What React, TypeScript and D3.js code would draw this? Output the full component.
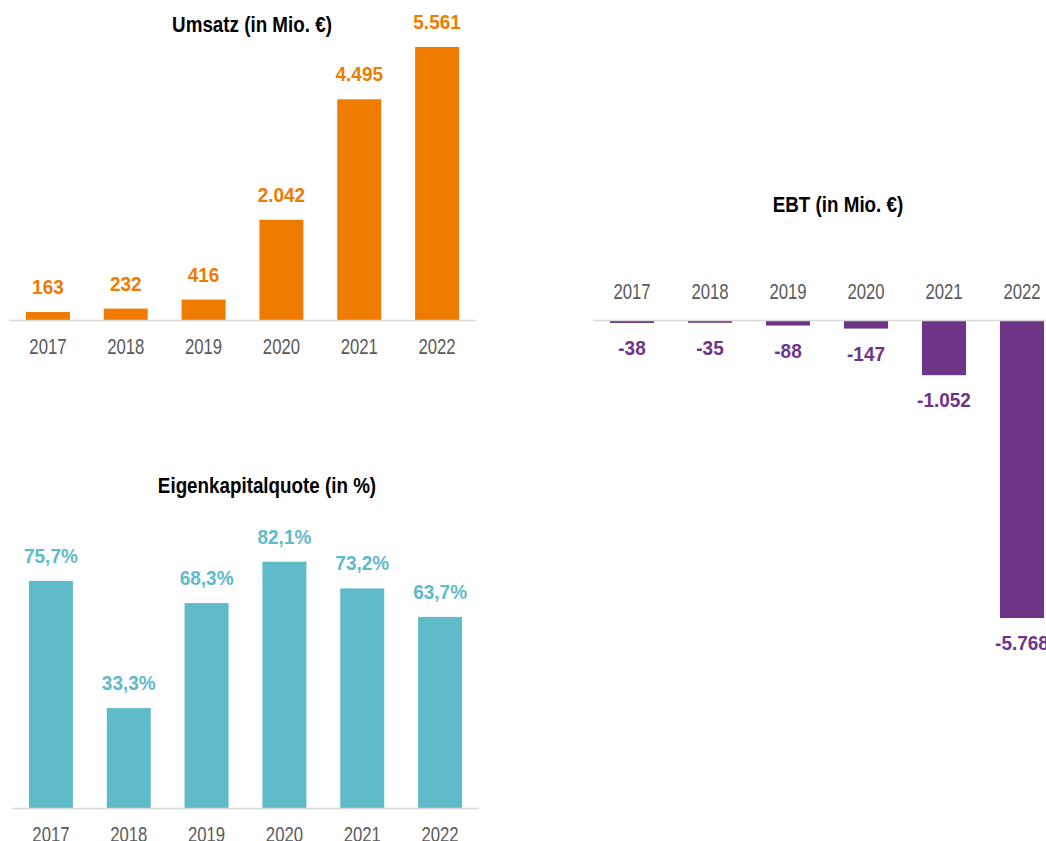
import React from 'react'
import { scaleBand, scaleLinear, formatLocale } from 'd3'

const years = ['2017', '2018', '2019', '2020', '2021', '2022']
const umsatz = [163, 232, 416, 2042, 4495, 5561]
const ebt = [-38, -35, -88, -147, -1052, -5768]
const ekQuote = [75.7, 33.3, 68.3, 82.1, 73.2, 63.7]

const de = formatLocale({ decimal: ',', thousands: '.', grouping: [3], currency: ['', ' €'], minus: '-' })
const fmtInt = de.format(',d')
const fmtPct = de.format(',.1f')

const font = '"Liberation Sans", Arial, sans-serif'

const axisColor = '#d9d9d9'
const yearColor = '#595959'

// text squeezed horizontally, to get the narrow look of the original font
function Txt({ x, y, sx = 1, children, ...rest }) {
  return (
    <text transform={`translate(${x},${y}) scale(${sx},1)`} textAnchor="middle" fontFamily={font} {...rest}>
      {children}
    </text>
  )
}

function Title({ x, y, text }) {
  return <Txt x={x} y={y} sx={0.855} fontWeight="bold" fontSize={22} fill="#000">{text}</Txt>
}

function Year({ x, y, text }) {
  return <Txt x={x} y={y} sx={0.76} fontSize={22} fill={yearColor}>{text}</Txt>
}

function Value({ x, y, text, color }) {
  return <Txt x={x} y={y} sx={0.95} fontWeight="bold" fontSize={20} fill={color}>{text}</Txt>
}

function App() {
  // Umsatz
  const x1 = scaleBand().domain(years).range([9, 476]).paddingInner(0.435).paddingOuter(0.2175)
  const y1 = scaleLinear().domain([0, 6000]).range([320, 320 - 6000 * 0.0491])

  // EBT
  const x2 = scaleBand().domain(years).range([593, 1061]).paddingInner(0.435).paddingOuter(0.2175)
  const y2 = scaleLinear().domain([-6000, 0]).range([321 + 6000 * 0.0515, 321])

  // Eigenkapitalquote
  const x3 = scaleBand().domain(years).range([12, 479]).paddingInner(0.435).paddingOuter(0.2175)
  const y3 = scaleLinear().domain([0, 100]).range([808, 508])

  const mid = (sc, d) => sc(d) + sc.bandwidth() / 2

  return (
    <svg width={1046} height={841} style={{ position: 'absolute', left: 0, top: 0 }}>
      <rect width={1046} height={841} fill="#fff" />

      {/* Umsatz */}
      <Title x={252} y={32} text="Umsatz (in Mio. €)" />
      {umsatz.map((v, i) => (
        <g key={'u' + i}>
          <rect x={x1(years[i])} y={y1(v)} width={x1.bandwidth()} height={y1(0) - y1(v)} fill="#ef7c00" />
          <Value x={mid(x1, years[i])} y={y1(v) - 18} text={fmtInt(v)} color="#ef7c00" />
          <Year x={mid(x1, years[i])} y={354} text={years[i]} />
        </g>
      ))}
      <line x1={9} x2={476} y1={y1(0) + 0.5} y2={y1(0) + 0.5} stroke={axisColor} strokeWidth={1.5} />

      {/* EBT */}
      <Title x={838} y={212} text="EBT (in Mio. €)" />
      {ebt.map((v, i) => (
        <g key={'e' + i}>
          <rect x={x2(years[i])} y={y2(0)} width={x2.bandwidth()} height={y2(v) - y2(0)} fill="#6e3587" />
          <Value x={mid(x2, years[i])} y={y2(v) + 32} text={fmtInt(v)} color="#6e3587" />
          <Year x={mid(x2, years[i])} y={299} text={years[i]} />
        </g>
      ))}
      <line x1={593} x2={1046} y1={y2(0) - 0.5} y2={y2(0) - 0.5} stroke={axisColor} strokeWidth={1.5} />

      {/* Eigenkapitalquote */}
      <Title x={267} y={493} text="Eigenkapitalquote (in %)" />
      {ekQuote.map((v, i) => (
        <g key={'k' + i}>
          <rect x={x3(years[i])} y={y3(v)} width={x3.bandwidth()} height={y3(0) - y3(v)} fill="#5fbaca" />
          <Value x={mid(x3, years[i])} y={y3(v) - 18} text={fmtPct(v) + '%'} color="#5fbaca" />
          <Year x={mid(x3, years[i])} y={842} text={years[i]} />
        </g>
      ))}
      <line x1={12} x2={479} y1={y3(0) + 0.5} y2={y3(0) + 0.5} stroke={axisColor} strokeWidth={1.5} />
    </svg>
  )
}

export default App
